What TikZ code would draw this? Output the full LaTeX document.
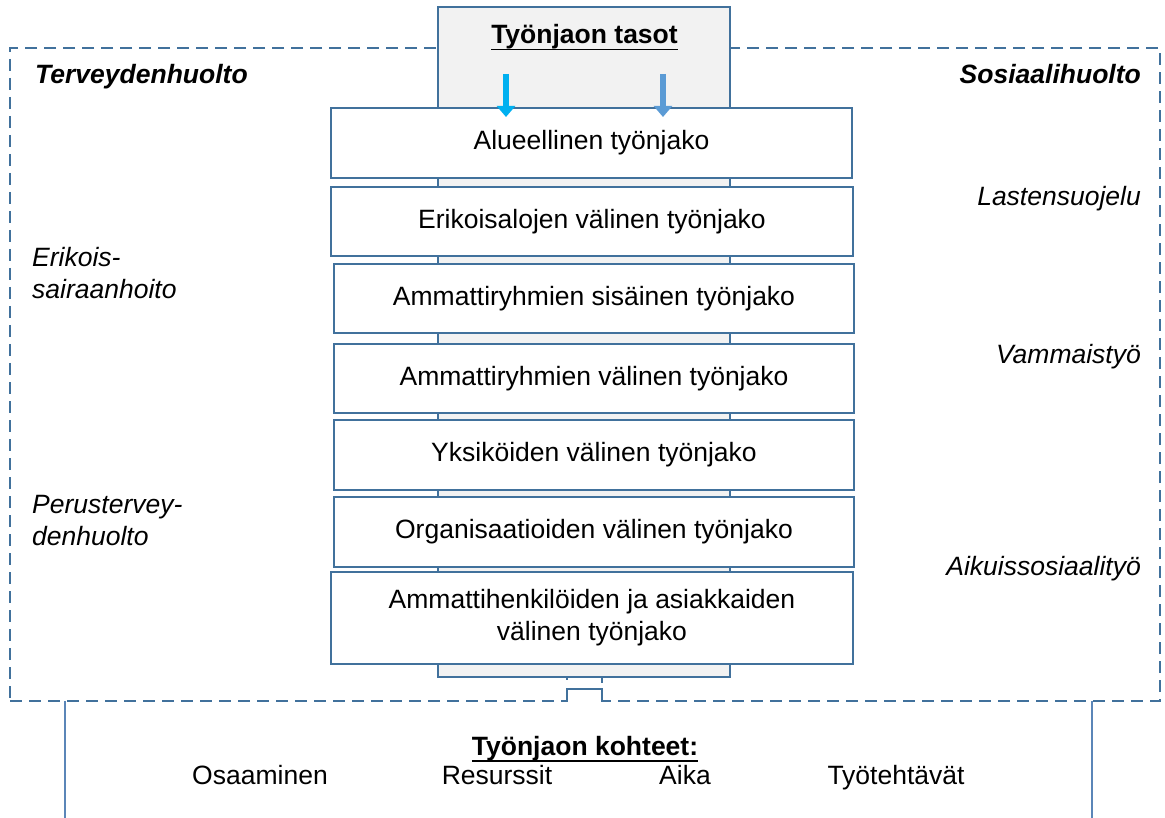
\documentclass[tikz,border=0pt]{standalone}
\usepackage{fontspec}
\setmainfont{Liberation Sans}
\usetikzlibrary{arrows.meta}
\definecolor{bord}{HTML}{41719C}
\definecolor{colgray}{HTML}{F2F2F2}
\definecolor{arrcyan}{HTML}{00B0F0}
\definecolor{arrblue}{HTML}{5B9BD5}
\definecolor{sideline}{HTML}{5B86B8}
\newcommand\myul[1]{\setbox0\hbox{#1}\leavevmode\rlap{\rule[-7pt]{\wd0}{1.8pt}}\box0}
\begin{document}
\begin{tikzpicture}[x=1pt,y=-1pt,
  every node/.style={inner sep=0pt},
  txt/.style={font=\fontsize{26.5}{32}\selectfont},
  sidetxt/.style={font=\fontsize{26.5}{32}\selectfont\itshape},
  sidehead/.style={font=\fontsize{26.5}{32}\selectfont\bfseries\itshape},
  headtxt/.style={font=\fontsize{26.5}{32}\selectfont\bfseries},
  lvl/.style={draw=bord, line width=2.6pt, fill=white, minimum width=520pt, minimum height=69pt, align=center, font=\fontsize{26.5}{32}\selectfont},
  downarrow/.style={line width=6pt, -{Triangle[width=18pt,length=11pt]}},
  thinblue/.style={draw=bord, line width=1.5pt}
]
\useasboundingbox (0,0) rectangle (1165,818);

% outer dashed frame
\node[draw=bord, line width=2pt, dash pattern=on 12pt off 7pt, minimum width=1150pt, minimum height=653pt] (frame) at (585,374.5) {};
% gap in frame under the column
\fill[white] (568,695) rectangle (601,706);

% bottom side lines
\coordinate (bl1) at (65,701);
\coordinate (bl2) at (65,818);
\coordinate (br1) at (1092,701);
\coordinate (br2) at (1092,818);
\draw[sideline, line width=1.5pt] (bl1) -- (bl2);
\draw[sideline, line width=1.5pt] (br1) -- (br2);

% gray column
\node[draw=bord, line width=2pt, fill=colgray, minimum width=292pt, minimum height=670pt] (col) at (584,342) {};

% title
\node[headtxt, anchor=base] (title) at (584.5,43.5) {\myul{Työnjaon tasot}};

% levels
\node[lvl, minimum width=521pt, minimum height=70pt] (l1) at (591.5,143) {Alueellinen työnjako};
\node[lvl, minimum width=522pt] (l2) at (592,221.5) {Erikoisalojen välinen työnjako};
\node[lvl] (l3) at (594,298.5) {Ammattiryhmien sisäinen työnjako};
\node[lvl] (l4) at (594,378.5) {Ammattiryhmien välinen työnjako};
\node[lvl, minimum height=70pt] (l5) at (594,455) {Yksiköiden välinen työnjako};
\node[lvl, minimum height=70pt] (l6) at (594,532) {Organisaatioiden välinen työnjako};
\node[lvl, minimum width=522pt, minimum height=92pt] (l7) at (592,618) {Ammattihenkilöiden ja asiakkaiden\\välinen työnjako};

% arrows
\coordinate (a1s) at (506,74);
\coordinate (a1e) at (506,117);
\coordinate (a2s) at (663,74);
\coordinate (a2e) at (663,117);
\draw[downarrow, arrcyan] (a1s) -- (a1e);
\draw[downarrow, arrblue] (a2s) -- (a2e);

% small bracket connector under the column
\coordinate (k1) at (567,677);
\coordinate (k2) at (567,680);
\coordinate (k3) at (602,677);
\coordinate (k4) at (602,683);
\coordinate (b1) at (567,701);
\coordinate (b2) at (567,689);
\coordinate (b3) at (602,689);
\coordinate (b4) at (602,701);
\draw[thinblue] (k1) -- (k2);
\draw[thinblue] (k3) -- (k4);
\draw[thinblue] (b1) -- (b2) -- (b3) -- (b4);

% left side labels
\node[sidehead, anchor=base west] (terv) at (35,84) {Terveydenhuolto};
\node[sidetxt, anchor=base west] (erik1) at (32,267) {Erikois-};
\node[sidetxt, anchor=base west] (erik2) at (32,299) {sairaanhoito};
\node[sidetxt, anchor=base west] (per1) at (32,513) {Perustervey-};
\node[sidetxt, anchor=base west] (per2) at (32,545) {denhuolto};

% right side labels
\node[sidehead, anchor=base east] (sos) at (1141,84) {Sosiaalihuolto};
\node[sidetxt, anchor=base east] (last) at (1141,206) {Lastensuojelu};
\node[sidetxt, anchor=base east] (vamm) at (1141,363) {Vammaistyö};
\node[sidetxt, anchor=base east] (aik) at (1141,575) {Aikuissosiaalityö};

% bottom
\node[headtxt, anchor=base] (koht) at (585,755) {\myul{Työnjaon kohteet:}};
\node[txt, anchor=base] (o1) at (260,784) {Osaaminen};
\node[txt, anchor=base] (o2) at (497,784) {Resurssit};
\node[txt, anchor=base] (o3) at (685,784) {Aika};
\node[txt, anchor=base] (o4) at (896,784) {Työtehtävät};
\end{tikzpicture}
\end{document}
